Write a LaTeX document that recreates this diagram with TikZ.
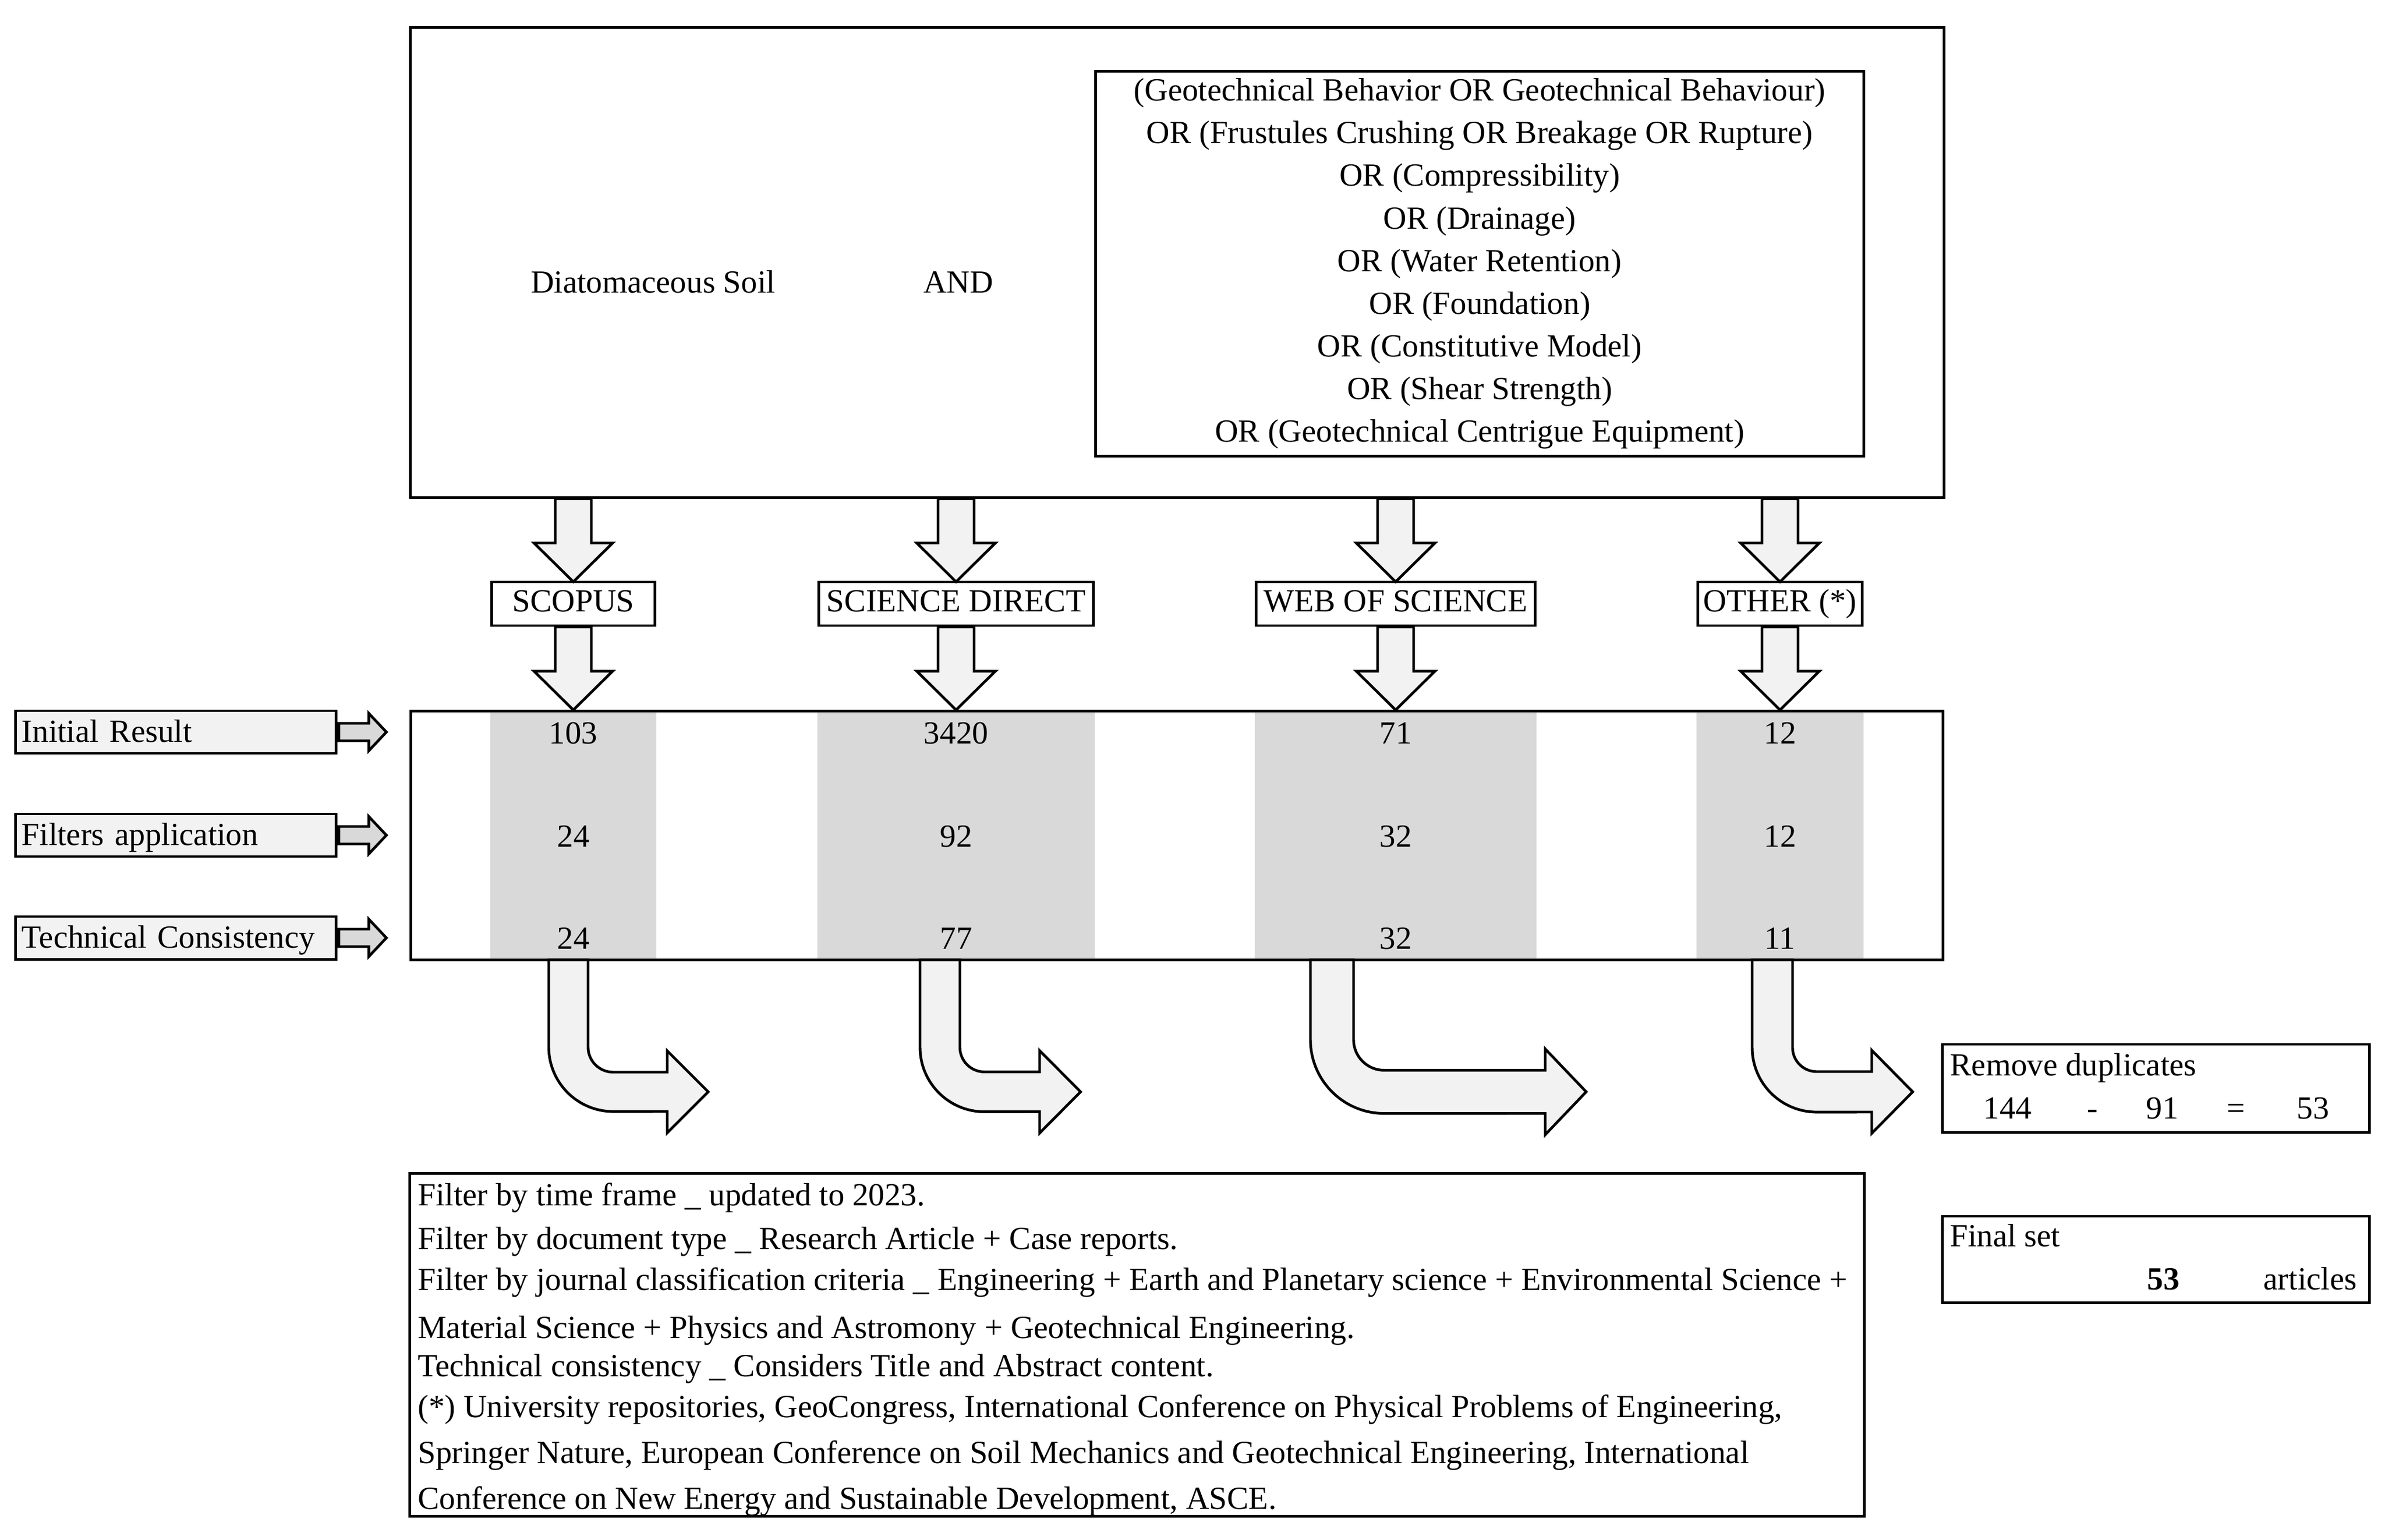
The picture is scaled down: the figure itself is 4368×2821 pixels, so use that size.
\documentclass[tikz,border=0pt]{standalone}
\usepackage{fontspec}
\setmainfont{Liberation Serif}
\definecolor{lightfill}{HTML}{F2F2F2}
\definecolor{colfill}{HTML}{D9D9D9}
\tikzset{
	box/.style={draw, line width=1.4pt, inner sep=0pt},
	srcbox/.style={box, fill=white, minimum height=0.8cm, text height=2.1ex, text depth=.25ex},
	rowbox/.style={box, fill=lightfill, minimum width=5.86cm, minimum height=0.78cm, text width=5.64cm, align=left, text height=2.6ex, text depth=.25ex},
	fat/.style={draw, line width=1.4pt, fill=lightfill},
	txt/.style={inner sep=0pt, anchor=base}
}
\begin{document}
\begin{tikzpicture}[x=0.01cm,y=-0.01cm,line width=1.4pt,font=\fontsize{16.8pt}{22.2pt}\selectfont]
	\useasboundingbox (0,0) rectangle (4368,2821);
	% chuoi tim kiem
	\node[box, minimum width=28.08cm, minimum height=8.6cm] (search) at (2156,481) {};
	\node[txt] (soil) at (1196,536) {Diatomaceous Soil};
	\node[txt] (and) at (1755,536) {AND};
	\node[box, minimum width=14.07cm, minimum height=7.05cm, align=center] (query) at (2710,483) {(Geotechnical Behavior OR Geotechnical Behaviour)\\
		OR (Frustules Crushing OR Breakage OR Rupture)\\
		OR (Compressibility)\\
		OR (Drainage)\\
		OR (Water Retention)\\
		OR (Foundation)\\
		OR (Constitutive Model)\\
		OR (Shear Strength)\\
		OR (Geotechnical Centrigue Equipment)};
	% co so du lieu
	\node[srcbox, minimum width=2.99cm] (scopus) at (1050,1106) {SCOPUS};
	\node[srcbox, minimum width=5.03cm] (scidirect) at (1751,1106) {SCIENCE DIRECT};
	\node[srcbox, minimum width=5.11cm] (wos) at (2556,1106) {WEB OF SCIENCE};
	\node[srcbox, minimum width=3.00cm] (other) at (3260,1106) {OTHER (*)};
	% mui ten xuong
	\foreach \n in {scopus,scidirect,wos,other}{
		\begin{scope}[shift={(search.south -| \n.north)}]
			\filldraw[fat] (-33,0) -- (-33,81) -- (-72,81) -- (0,152) -- (72,81) -- (33,81) -- (33,0) -- cycle;
		\end{scope}
		\begin{scope}[shift={(\n.south)}]
			\filldraw[fat] (-33,0) -- (-33,81) -- (-72,81) -- (0,152) -- (72,81) -- (33,81) -- (33,0) -- cycle;
		\end{scope}
	}
	% bang ket qua
	\path (753,1303) coordinate (tabtop) (3558,1758) coordinate (tabbot);
	\foreach \n in {scopus,scidirect,wos,other}{
		\fill[colfill] (\n.west |- tabtop) rectangle (\n.east |- tabbot);
	}
	% mui ten cong
	\foreach \x/\w/\r/\e in {1005/72/118/1297,1685/73/118/1979,2400/79/135/2905,3209/74/118/3503}{
		\pgfmathsetmacro\yb{2000+\w/2}
		\pgfmathsetmacro\yt{2000-\w/2}
		\pgfmathsetmacro\hh{\w/2+39}
		\filldraw[fat] (\x,1758) -- (\x,\yb-\r) arc[start angle=180, end angle=270, radius=\r/100*1cm]
		-- (\e-75,\yb) -- (\e-75,2000+\hh) -- (\e,2000) -- (\e-75,2000-\hh) -- (\e-75,\yt)
		-- (\x+\r,\yt) arc[start angle=270, end angle=180, radius=(\r-\w)/100*1cm]
		-- (\x+\w,1758) -- cycle;
	}
	\node[box, minimum width=28.05cm, minimum height=4.55cm] (results) at (2155.5,1530.5) {};
	\foreach \n/\a/\b/\c in {scopus/103/24/24,scidirect/3420/92/77,wos/71/32/32,other/12/12/11}{
		\node[txt] (\n-1) at (\n |- 0,1362) {\a};
		\node[txt] (\n-2) at (\n |- 0,1551) {\b};
		\node[txt] (\n-3) at (\n |- 0,1738) {\c};
	}
	% nhan cac buoc
	\foreach \y/\t [count=\i] in {1341/Initial Result,1530/Filters application,1718/Technical Consistency}{
		\node[rowbox] (row\i) at (322,\y) {\t};
		\begin{scope}[shift={(row\i.east)}]
			\filldraw[line width=1.4pt, fill=colfill] (3,-16) -- (58,-16) -- (58,-34) -- (90,0) -- (58,34) -- (58,16) -- (3,16) -- cycle;
		\end{scope}
	}
	% loai trung lap
	\node[box, minimum width=7.81cm, minimum height=1.61cm] (dup) at (3948.5,1993.5) {};
	\node[txt, anchor=base west] (duptitle) at (3569,1970) {Remove duplicates};
	\foreach \x/\t [count=\i] in {3677/144,3832/-,3960/91,4095/=,4236/53}{
		\node[txt] (dup\i) at (\x,2049) {\t};
	}
	% tap cuoi
	\node[box, minimum width=7.81cm, minimum height=1.58cm] (final) at (3948.5,2307) {};
	\node[txt, anchor=base west] (finaltitle) at (3569,2283) {Final set};
	\node[txt] (finalnum) at (3962,2362) {\textbf{53}};
	\node[txt] (finalword) at (4231,2362) {articles};
	% ghi chu
	\node[box, minimum width=26.63cm, minimum height=6.27cm] (notes) at (2082.5,2463.5) {};
	\foreach \y/\t [count=\i] in {2208/{Filter by time frame \_ updated to 2023.},
		2288/{Filter by document type \_ Research Article + Case reports.},
		2363/{Filter by journal classification criteria \_ Engineering + Earth and Planetary science + Environmental Science +},
		2451/{Material Science + Physics and Astromony + Geotechnical Engineering.},
		2521/{Technical consistency \_ Considers Title and Abstract content.},
		2596/{(*) University repositories, GeoCongress, International Conference on Physical Problems of Engineering,},
		2680/{Springer Nature, European Conference on Soil Mechanics and Geotechnical Engineering, International},
		2764/{Conference on New Energy and Sustainable Development, ASCE.}}{
		\node[txt, anchor=base west] (note\i) at (763,\y) {\t};
	}
\end{tikzpicture}
\end{document}
